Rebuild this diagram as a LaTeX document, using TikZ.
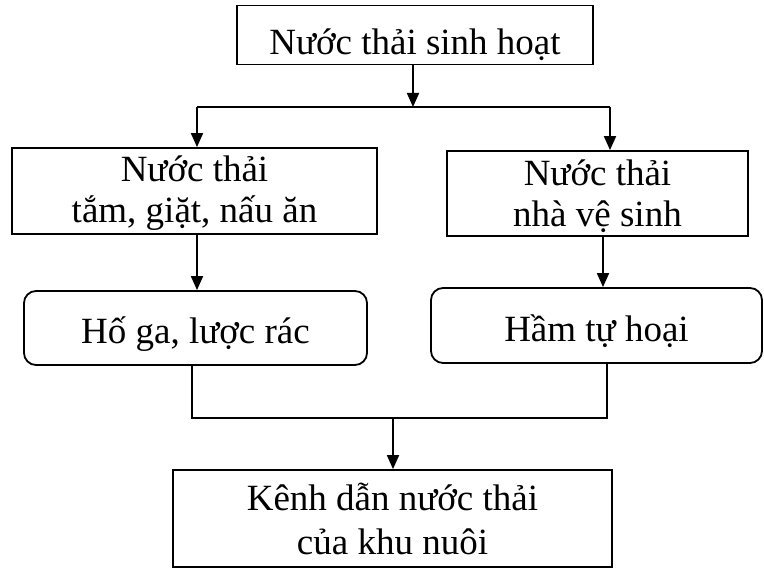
\documentclass[tikz,border=0pt]{standalone}
\usepackage{fontspec}
\setmainfont{Liberation Serif}
\usetikzlibrary{arrows.meta}
% one centred line whose baseline lies #1 below the node centre
\newcommand\oneln[2]{\raisebox{-#1}[0pt][0pt]{\makebox[0pt]{#2}}}
% two centred lines, #2 apart, the lower baseline #1 below the node centre
\newcommand\twoln[4]{\raisebox{-#1}[0pt][0pt]{\makebox[0pt]{\raisebox{#2}{\makebox[0pt]{#3}}\makebox[0pt]{#4}}}}
\begin{document}
\begin{tikzpicture}[x=1pt,y=-1pt,
  every node/.style={font=\fontsize{37}{43}\selectfont, inner sep=0pt},
  box/.style={draw, line width=1.8pt},
  rbox/.style={draw, line width=1.8pt, rounded corners=12pt},
  conn/.style={line width=1.8pt},
  flow/.style={conn, -{Triangle[length=14pt,width=12pt]}}]
\useasboundingbox (0,0) rectangle (764,569);
% boxes
\node[box, minimum width=356pt, minimum height=59pt] (src) at (415,35)
  {\oneln{20pt}{Nước thải sinh hoạt}};
\node[box, minimum width=365pt, minimum height=86pt] (wash) at (194.5,191)
  {\twoln{32pt}{41pt}{Nước thải}{tắm, giặt, nấu ăn}};
\node[box, minimum width=301pt, minimum height=85pt] (wc) at (597.5,193.5)
  {\twoln{33pt}{41pt}{Nước thải}{nhà vệ sinh}};
\node[rbox, minimum width=343pt, minimum height=74pt] (trap) at (195.5,328)
  {\oneln{16pt}{Hố ga, lược rác}};
\node[rbox, minimum width=331pt, minimum height=75pt] (septic) at (596.5,325.5)
  {\oneln{16pt}{Hầm tự hoại}};
\node[box, minimum width=439pt, minimum height=97pt] (canal) at (392.5,518.5)
  {\twoln{36pt}{44pt}{Kênh dẫn nước thải}{của khu nuôi}};
% split after the source
\coordinate (sj) at (413,107);
\coordinate (sl) at (197,107);
\coordinate (sr) at (610,107);
\draw[flow] (src.south -| sj) -- (sj);
\draw[conn] (sl) -- (sr);
\draw[flow] (sl) -- (sl |- wash.north);
\draw[flow] (sr) -- (sr |- wc.north);
% treatment steps
\coordinate (tl) at (197,0);
\coordinate (tr) at (603,0);
\draw[flow] (tl |- wash.south) -- (tl |- trap.north);
\draw[flow] (tr |- wc.south) -- (tr |- septic.north);
% merge into the canal
\coordinate (ml) at (192,418);
\coordinate (mr) at (607,418);
\coordinate (mj) at (393,418);
\draw[conn] (ml |- trap.south) -- (ml) -- (mr) -- (mr |- septic.south);
\draw[flow] (mj) -- (mj |- canal.north);
\end{tikzpicture}
\end{document}
